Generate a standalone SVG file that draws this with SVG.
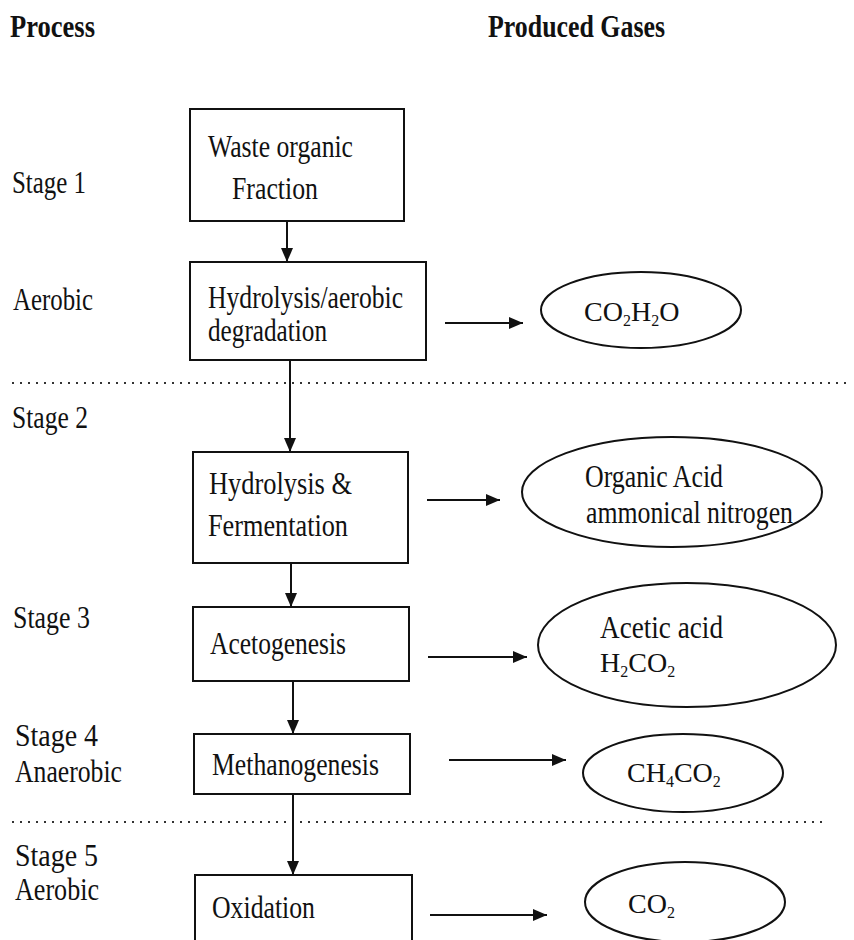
<svg xmlns="http://www.w3.org/2000/svg" width="854" height="940" viewBox="0 0 854 940">
<defs>
<marker id="ah" markerUnits="userSpaceOnUse" markerWidth="14" markerHeight="12" refX="14" refY="6" orient="auto"><path d="M0,0 L14,6 L0,12 z" fill="#111"/></marker>
<style>
text{font-family:"Liberation Serif","Times New Roman",serif;fill:#111;font-size:32px}
.h{font-weight:bold;font-size:31px}
.f{font-size:28px}
.sub{font-size:16px}
.box{fill:#fff;stroke:#111;stroke-width:2}
.ell{fill:#fff;stroke:#111;stroke-width:2}
.con{stroke:#111;stroke-width:2;fill:none;marker-end:url(#ah)}
.dot{stroke:#333;stroke-width:2;stroke-dasharray:2 6;fill:none}
</style>
</defs>
<rect width="854" height="940" fill="#fff"/>
<g id="headers">
<text class="h" x="10" y="37" textLength="85" lengthAdjust="spacingAndGlyphs">Process</text>
<text class="h" x="488" y="37" textLength="177" lengthAdjust="spacingAndGlyphs">Produced Gases</text>
</g>
<g id="stage-labels">
<text x="12" y="193" textLength="74" lengthAdjust="spacingAndGlyphs">Stage 1</text>
<text x="13" y="310" textLength="80" lengthAdjust="spacingAndGlyphs">Aerobic</text>
<text x="12" y="428" textLength="76" lengthAdjust="spacingAndGlyphs">Stage 2</text>
<text x="13" y="628" textLength="77" lengthAdjust="spacingAndGlyphs">Stage 3</text>
<text x="15" y="746" textLength="83" lengthAdjust="spacingAndGlyphs">Stage 4</text>
<text x="15" y="782" textLength="107" lengthAdjust="spacingAndGlyphs">Anaerobic</text>
<text x="15" y="866" textLength="83" lengthAdjust="spacingAndGlyphs">Stage 5</text>
<text x="15" y="900" textLength="84" lengthAdjust="spacingAndGlyphs">Aerobic</text>
</g>
<g id="dividers">
<line class="dot" x1="12" y1="383" x2="852" y2="383"/>
<line class="dot" x1="12" y1="822" x2="822" y2="822"/>
</g>
<g id="connectors">
<line class="con" x1="287" y1="221" x2="287" y2="262"/>
<line class="con" x1="290" y1="360" x2="290" y2="452"/>
<line class="con" x1="291" y1="563" x2="291" y2="607"/>
<line class="con" x1="293" y1="681" x2="293" y2="734"/>
<line class="con" x1="293" y1="794" x2="293" y2="875"/>
<line class="con" x1="445" y1="323" x2="523" y2="323"/>
<line class="con" x1="427" y1="500" x2="500" y2="500"/>
<line class="con" x1="428" y1="657" x2="527" y2="657"/>
<line class="con" x1="449" y1="760" x2="566" y2="760"/>
<line class="con" x1="430" y1="915" x2="547" y2="915"/>
</g>
<g id="waste">
<rect class="box" x="190" y="109" width="214" height="112"/>
<text x="208" y="157" textLength="145" lengthAdjust="spacingAndGlyphs">Waste organic</text>
<text x="232" y="199" textLength="86" lengthAdjust="spacingAndGlyphs">Fraction</text>
</g>
<g id="hydrolysis-aerobic">
<rect class="box" x="190" y="262" width="236" height="98"/>
<text x="208" y="308" textLength="195" lengthAdjust="spacingAndGlyphs">Hydrolysis/aerobic</text>
<text x="208" y="341" textLength="119" lengthAdjust="spacingAndGlyphs">degradation</text>
</g>
<g id="hydrolysis-fermentation">
<rect class="box" x="193" y="452" width="215" height="111"/>
<text x="209" y="494" textLength="143" lengthAdjust="spacingAndGlyphs">Hydrolysis &amp;</text>
<text x="208" y="536" textLength="140" lengthAdjust="spacingAndGlyphs">Fermentation</text>
</g>
<g id="acetogenesis">
<rect class="box" x="193" y="607" width="216" height="74"/>
<text x="210" y="654" textLength="136" lengthAdjust="spacingAndGlyphs">Acetogenesis</text>
</g>
<g id="methanogenesis">
<rect class="box" x="194" y="734" width="216" height="60"/>
<text x="212" y="775" textLength="167" lengthAdjust="spacingAndGlyphs">Methanogenesis</text>
</g>
<g id="oxidation">
<rect class="box" x="195" y="875" width="217" height="75"/>
<text x="212" y="918" textLength="103" lengthAdjust="spacingAndGlyphs">Oxidation</text>
</g>
<g id="gas-co2-h2o">
<ellipse class="ell" cx="641" cy="310" rx="100" ry="38"/>
<text class="f" x="584" y="321">CO<tspan class="sub" dy="5">2</tspan><tspan dy="-5">H</tspan><tspan class="sub" dy="5">2</tspan><tspan dy="-5">O</tspan></text>
</g>
<g id="gas-organic-acid">
<ellipse class="ell" cx="672" cy="492" rx="150" ry="55"/>
<text x="585" y="487" textLength="138" lengthAdjust="spacingAndGlyphs">Organic Acid</text>
<text x="586" y="523" textLength="207" lengthAdjust="spacingAndGlyphs">ammonical nitrogen</text>
</g>
<g id="gas-acetic-acid">
<ellipse class="ell" cx="687" cy="645" rx="149" ry="62"/>
<text x="600" y="638" textLength="123" lengthAdjust="spacingAndGlyphs">Acetic acid</text>
<text class="f" x="600" y="672">H<tspan class="sub" dy="5">2</tspan><tspan dy="-5">CO</tspan><tspan class="sub" dy="5">2</tspan></text>
</g>
<g id="gas-ch4-co2">
<ellipse class="ell" cx="683" cy="773" rx="100" ry="39"/>
<text class="f" x="627" y="782">CH<tspan class="sub" dy="5">4</tspan><tspan dy="-5">CO</tspan><tspan class="sub" dy="5">2</tspan></text>
</g>
<g id="gas-co2">
<ellipse class="ell" cx="685" cy="902" rx="100" ry="40"/>
<text class="f" x="628" y="913">CO<tspan class="sub" dy="5">2</tspan></text>
</g>
</svg>
